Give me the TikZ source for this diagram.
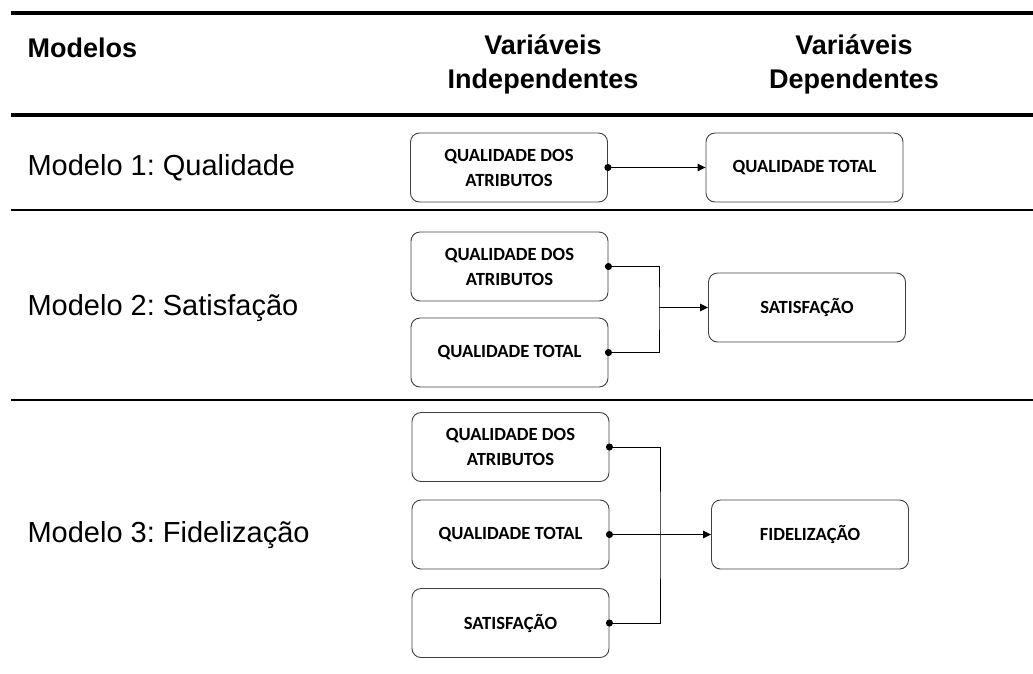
\documentclass[tikz,border=0pt]{standalone}
\usepackage{fontspec}
\setmainfont{Liberation Sans}
\newfontfamily\boxfont{Carlito}
\usetikzlibrary{arrows.meta, positioning}
\frenchspacing

\begin{document}
\begin{tikzpicture}[
    x=1pt, y=-1pt,
    varbox/.style={rectangle, draw=black!75, line width=0.9pt, rounded corners=9pt, minimum width=197pt, minimum height=69pt, align=center, font=\boxfont\bfseries\fontsize{18.6}{25}\selectfont},
    head/.style={font=\bfseries\fontsize{27}{34}\selectfont, align=center},
    model/.style={font=\fontsize{29}{32}\selectfont, anchor=west},
    link/.style={{Circle[length=7pt]}-{Circle[length=7pt]}, line width=1pt, shorten <=-3.5pt, shorten >=-3.5pt},
    arrow/.style={{Circle[length=7pt]}-{Triangle[length=8pt, width=7.5pt]}, line width=1pt, shorten <=-3.5pt},
    feed/.style={-{Triangle[length=8pt, width=7.5pt]}, line width=1pt}
]
\useasboundingbox (0,0) rectangle (1033,673);

% regras da tabela
\draw[line width=4pt] (11,12.5) -- (1033,12.5);
\draw[line width=4pt] (11,115) -- (1033,115);
\draw[line width=1.3pt] (11,210) -- (1033,210);
\draw[line width=1.3pt] (11,400) -- (1033,400);

% cabecalho
\node[head, anchor=west] (hmod) at (24,48) {Modelos};
\node[head] (hind) at (543,64) {Variáveis\\Independentes};
\node[head] (hdep) at (854,64) {Variáveis\\Dependentes};

% modelo 1
\node[model] (m1) at (24,167.5) {Modelo 1: Qualidade};
\node[varbox] (qa1) at (509,167.5) {QUALIDADE DOS\\ATRIBUTOS};
\node[varbox] (qt1) at (804.5,167.5) {QUALIDADE TOTAL};
\draw[arrow] (qa1.east) -- (qt1.west);

% modelo 2
\node[model] (m2) at (24,308) {Modelo 2: Satisfação};
\node[varbox] (qa2) at (509.5,266.5) {QUALIDADE DOS\\ATRIBUTOS};
\node[varbox] (qt2) at (509.5,352.5) {QUALIDADE TOTAL};
\node[varbox] (sat2) at (807,307.5) {SATISFAÇÃO};
\coordinate (j2) at (659,307.5);
\draw[link] (qa2.east) -| (j2) |- (qt2.east);
\draw[feed] (j2) -- (sat2.west);

% modelo 3
\node[model] (m3) at (24,535) {Modelo 3: Fidelização};
\node[varbox] (qa3) at (510.5,447) {QUALIDADE DOS\\ATRIBUTOS};
\node[varbox] (qt3) at (510.5,534.5) {QUALIDADE TOTAL};
\node[varbox] (sat3) at (510.5,623) {SATISFAÇÃO};
\node[varbox] (fid3) at (810,534.5) {FIDELIZAÇÃO};
\coordinate (j3) at (660,534.5);
\draw[link] (qa3.east) -| (j3) |- (sat3.east);
\draw[arrow] (qt3.east) -- (fid3.west);
\end{tikzpicture}
\end{document}
